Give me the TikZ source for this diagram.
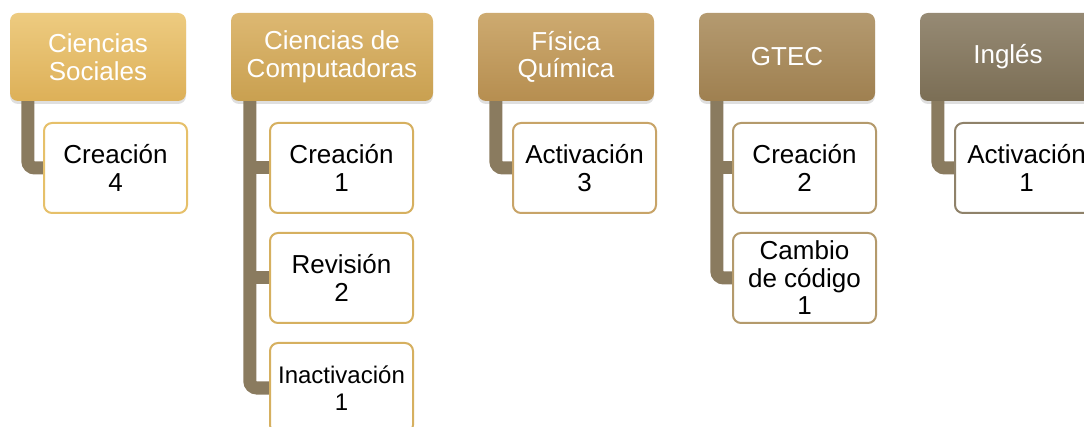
\documentclass[tikz,border=0pt]{standalone}
\usepackage{fontspec}
\setmainfont{Liberation Sans}
\usetikzlibrary{shadows}
\definecolor{hAt}{HTML}{EDCB80}\definecolor{hAb}{HTML}{DDB058}
\definecolor{hBt}{HTML}{DDB872}\definecolor{hBb}{HTML}{C9A050}
\definecolor{hCt}{HTML}{CDAA70}\definecolor{hCb}{HTML}{B68E50}
\definecolor{hDt}{HTML}{B49A70}\definecolor{hDb}{HTML}{9F8050}
\definecolor{hEt}{HTML}{968A74}\definecolor{hEb}{HTML}{7B6E55}
\definecolor{bA}{HTML}{E6C06A}\definecolor{bB}{HTML}{D6B060}
\definecolor{bC}{HTML}{C8A468}\definecolor{bD}{HTML}{B49A6C}
\definecolor{bE}{HTML}{8F826A}
\definecolor{conncol}{HTML}{8A7B5F}
\tikzset{
  txt/.style={font=\fontsize{26}{27.5}\selectfont, align=center, inner sep=0pt},
  head/.style={txt, text=white, rounded corners=8pt, minimum height=88pt,
    drop shadow={opacity=0.25, shadow xshift=0pt, shadow yshift=-3pt}},
  child/.style={txt, text=black, fill=white, draw, line width=2pt, rounded corners=8pt,
    minimum width=143pt, minimum height=90pt},
  small/.style={font=\fontsize{24}{27.5}\selectfont},
  conn/.style={draw=conncol, line width=13pt, rounded corners=7pt},
}
\begin{document}
\begin{tikzpicture}[x=1pt,y=-1pt]
\useasboundingbox (0,0) rectangle (1084,427);
\clip (0,0) rectangle (1084,427);
% headers
\node[head, minimum width=176pt, top color=hAt, bottom color=hAb] (h1) at (98,57) {Ciencias\\Sociales};
\node[head, minimum width=202pt, top color=hBt, bottom color=hBb] (h2) at (332,57) {Ciencias de\\Computadoras};
\node[head, minimum width=176pt, top color=hCt, bottom color=hCb] (h3) at (566,57) {Física\\Química};
\node[head, minimum width=176pt, top color=hDt, bottom color=hDb] (h4) at (787,57) {GTEC};
\node[head, minimum width=176pt, top color=hEt, bottom color=hEb] (h5) at (1008,57) {Inglés};
% connectors
\draw[conn] ([xshift=18pt]h1.south west) |- (45,168);
\draw[conn] ([xshift=19pt]h2.south west) |- (271,388);
\draw[conn] ([xshift=19pt]h2.south west |- 0,168) -- (271,168);
\draw[conn] ([xshift=19pt]h2.south west |- 0,278) -- (271,278);
\draw[conn] ([xshift=18pt]h3.south west) |- (514,168);
\draw[conn] ([xshift=18pt]h4.south west) |- (734,278);
\draw[conn] ([xshift=18pt]h4.south west |- 0,168) -- (734,168);
\draw[conn] ([xshift=18pt]h5.south west) |- (956,168);
% children
\node[child, draw=bA] (c11) at (115.5,168) {Creación\\4};
\node[child, draw=bB] (c21) at (341.5,168) {Creación\\1};
\node[child, draw=bB] (c22) at (341.5,278) {Revisión\\2};
\node[child, draw=bB, small] (c23) at (341.5,388) {Inactivación\\1};
\node[child, draw=bC] (c31) at (584.5,168) {Activación\\3};
\node[child, draw=bD] (c41) at (804.5,168) {Creación\\2};
\node[child, draw=bD] (c42) at (804.5,278) {Cambio\\de código\\1};
\node[child, draw=bE] (c51) at (1026.5,168) {Activación\\1};
\end{tikzpicture}
\end{document}
